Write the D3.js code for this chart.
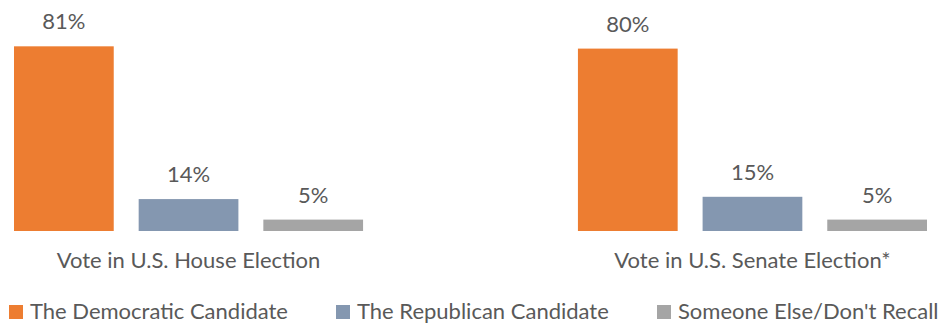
<!DOCTYPE html>
<html>
<head>
<meta charset="utf-8">
<script src="https://cdn.jsdelivr.net/npm/d3@7"></script>
<style>
  body { margin: 0; background: #fff; }
  text { font-family: Lato, "Open Sans", sans-serif; fill: #595959; }
</style>
</head>
<body>
<div id="chart"></div>
<script>
"use strict";

// categories (x groups) and series
let categories = ["Vote in U.S. House Election", "Vote in U.S. Senate Election*"];
let seriesNames = ["The Democratic Candidate", "The Republican Candidate", "Someone Else/Don't Recall"];
let seriesColors = ["#ED7D31", "#8497B0", "#A5A5A5"];

// percent values per series, one entry per category
let democratic = [81, 80];
let republican = [14, 15];
let other = [5, 5];

let seriesValues = [democratic, republican, other];

let width = 943,
    height = 324,
    baseline = 231;

let x0 = d3.scaleBand()
  .domain(categories)
  .range([14, 927])
  .paddingInner(0.381)
  .paddingOuter(0);

let x1 = d3.scaleBand()
  .domain(seriesNames)
  .range([0, x0.bandwidth()])
  .paddingInner(0.2);

let y = d3.scaleLinear()
  .domain([0, 100])
  .range([baseline, 3]);

let svg = d3.select("#chart").append("svg")
  .attr("width", width)
  .attr("height", height);

// flat rows for bars
let rows = [];
categories.forEach(function(cat, ci) {
  seriesNames.forEach(function(s, si) {
    rows.push({ cat: cat, series: s, color: seriesColors[si], value: seriesValues[si][ci] });
  });
});

let groups = svg.selectAll("g.bar").data(rows).enter().append("g")
  .attr("class", "bar")
  .attr("transform", function(d) { return "translate(" + (x0(d.cat) + x1(d.series)) + ",0)"; });

groups.append("rect")
  .attr("width", x1.bandwidth())
  .attr("y", function(d) { return y(d.value); })
  .attr("height", function(d) { return baseline - y(d.value); })
  .style("fill", function(d) { return d.color; });

groups.append("text")
  .attr("x", x1.bandwidth() / 2)
  .attr("y", function(d) { return y(d.value) - 17; })
  .attr("text-anchor", "middle")
  .style("font-size", "22px")
  .text(function(d) { return d.value + "%"; });

// category labels
svg.selectAll("text.cat").data(categories).enter().append("text")
  .attr("class", "cat")
  .attr("x", function(d) { return x0(d) + x0.bandwidth() / 2; })
  .attr("y", 268)
  .attr("text-anchor", "middle")
  .style("font-size", "22px")
  .text(function(d) { return d; });

// legend
let legendX = [9, 336, 657];

let legend = svg.selectAll("g.legend").data(seriesNames).enter().append("g")
  .attr("class", "legend")
  .attr("transform", function(d, i) { return "translate(" + legendX[i] + ",305)"; });

legend.append("rect")
  .attr("width", 14)
  .attr("height", 14)
  .style("fill", function(d, i) { return seriesColors[i]; });

legend.append("text")
  .attr("x", 21)
  .attr("y", 14)
  .style("font-size", "22px")
  .text(function(d) { return d; });
</script>
</body>
</html>
